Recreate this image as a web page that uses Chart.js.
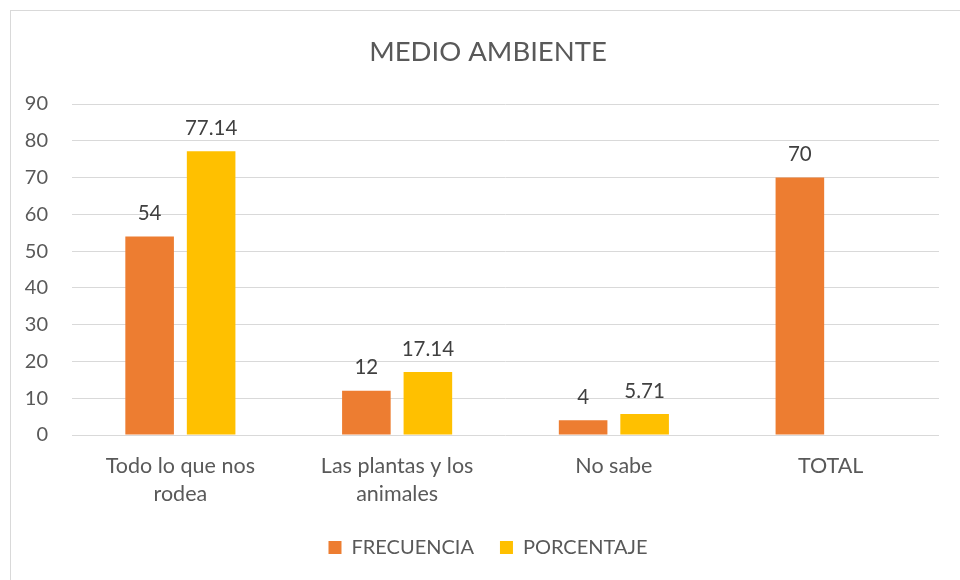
<!DOCTYPE html>
<html>
<head>
<meta charset="utf-8">
<script src="https://cdn.jsdelivr.net/npm/chart.js@4.4.1/dist/chart.umd.min.js"></script>
<style>
html,body{margin:0;padding:0;background:#fff;}
#wrap{width:960px;height:580px;position:relative;}
</style>
</head>
<body>
<div id="wrap"><canvas id="c" width="960" height="580"></canvas></div>
<script>
const title = "MEDIO AMBIENTE";
const categories = [["Todo lo que nos", "rodea"], ["Las plantas y los", "animales"], "No sabe", "TOTAL"];
const seriesNames = ["FRECUENCIA", "PORCENTAJE"];
const frecuencia = [54, 12, 4, 70];
const porcentaje = [77.14, 17.14, 5.71, null];
const yTicks = [0, 10, 20, 30, 40, 50, 60, 70, 80, 90];

const FONT = "Lato, 'Open Sans', sans-serif";
const TEXT = "#595959";

const frame = {
  id: "frame",
  beforeDraw(chart) {
    const ctx = chart.ctx;
    ctx.save();
    ctx.fillStyle = "#ffffff";
    ctx.fillRect(0, 0, chart.width, chart.height);
    ctx.strokeStyle = "#D9D9D9";
    ctx.lineWidth = 1;
    ctx.strokeRect(10.5, 10.5, chart.width, chart.height);
    ctx.restore();
  }
};

const valueLabels = {
  id: "valueLabels",
  afterDatasetsDraw(chart) {
    const ctx = chart.ctx;
    ctx.save();
    ctx.font = "20.5px " + FONT;
    ctx.fillStyle = "#404040";
    ctx.textAlign = "center";
    ctx.textBaseline = "middle";
    chart.data.datasets.forEach((ds, i) => {
      const meta = chart.getDatasetMeta(i);
      meta.data.forEach((el, j) => {
        const v = ds.data[j];
        if (v === null || v === undefined) return;
        ctx.fillText(String(v), el.x, el.y - 23);
      });
    });
    ctx.restore();
  }
};

new Chart(document.getElementById("c"), {
  type: "bar",
  data: {
    labels: categories,
    datasets: [
      { label: seriesNames[0], data: frecuencia, backgroundColor: "#ED7D31", borderWidth: 0, yAxisID: "y" },
      { label: seriesNames[1], data: porcentaje, backgroundColor: "#FFC000", borderWidth: 0, yAxisID: "y" }
    ]
  },
  options: {
    responsive: false,
    animation: false,
    events: [],
    layout: { padding: { top: 10, left: 20, right: 4, bottom: 12.5 } },
    datasets: { bar: { categoryPercentage: 0.5675, barPercentage: 0.79 } },
    plugins: {
      title: {
        display: true,
        text: title,
        color: TEXT,
        font: { family: FONT, size: 27.5, weight: "normal" },
        padding: { top: 26, bottom: 35 }
      },
      legend: {
        position: "bottom",
        labels: {
          color: TEXT,
          font: { family: FONT, size: 20 },
          boxWidth: 13,
          boxHeight: 13,
          padding: 26
        }
      },
      tooltip: { enabled: false }
    },
    scales: {
      x: {
        grid: { display: false, drawTicks: false },
        border: { display: false },
        afterFit(s) { s.height = 76.5; },
        ticks: { color: TEXT, font: { family: FONT, size: 21.5, lineHeight: 1.3 }, padding: 17, maxRotation: 0 }
      },
      y: {
        min: 0,
        max: 90,
        afterBuildTicks(s) { s.ticks = yTicks.map(v => ({ value: v })); },
        afterFit(s) { s.width = 52; },
        grid: { color: "#D9D9D9", lineWidth: 1, drawTicks: false },
        border: { display: false },
        ticks: { color: TEXT, font: { family: FONT, size: 20 }, padding: 24 }
      },
      rightSpace: {
        type: "linear",
        position: "right",
        display: true,
        afterFit(s) { s.width = 17; },
        grid: { display: false, drawTicks: false },
        border: { display: false },
        ticks: { display: false }
      }
    }
  },
  plugins: [frame, valueLabels]
});
</script>
</body>
</html>
